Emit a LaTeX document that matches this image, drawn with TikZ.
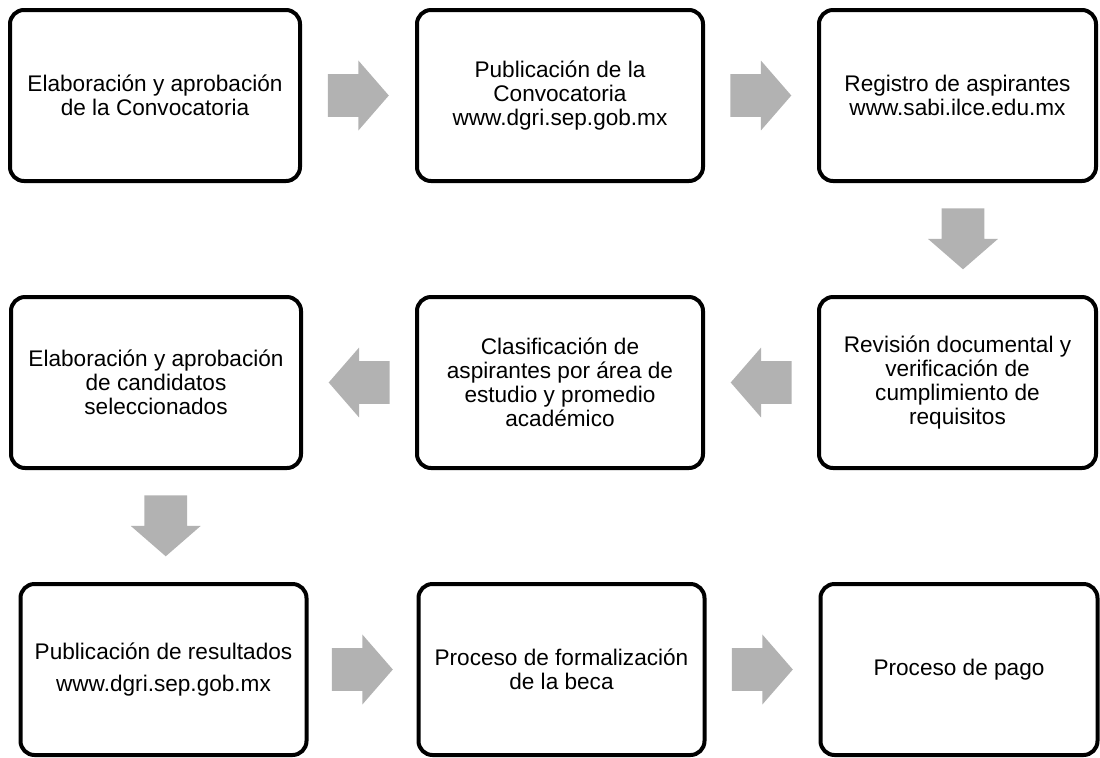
\documentclass[tikz,border=0pt]{standalone}
\usepackage{fontspec}
\setmainfont{Liberation Sans}
\usetikzlibrary{shapes.arrows, positioning, calc}
\tikzset{
  paso/.style={rectangle, draw=black, fill=white, line width=2pt, rounded corners=7pt,
               minimum width=145pt, minimum height=85.5pt, align=center,
               font=\fontsize{11.3}{12}\selectfont, inner sep=2pt},
  flecha/.style={single arrow, fill=black!30, draw=none, inner xsep=0pt, inner ysep=10.5pt,
                 minimum height=30.5pt, single arrow head extend=6.75pt,
                 single arrow tip angle=98, rotate=#1, xshift=-4.75pt},
  flecha/.default=0,
}

\begin{document}
\begin{tikzpicture}[node distance=56pt and 56pt]
  \useasboundingbox (0,0) rectangle (550pt,-378.5pt);

  % Nodes
  \node[paso] (conv) at (77.5pt,-47.75pt) {Elaboración y aprobación\\de la Convocatoria};
  \node[paso, minimum width=143pt, right=56.5pt of conv] (publ) {Publicación de la\\Convocatoria\\www.dgri.sep.gob.mx};
  \node[paso, minimum width=138.5pt, right=of publ] (regi) {Registro de aspirantes\\www.sabi.ilce.edu.mx};
  \node[paso, minimum width=138.5pt, below=of regi] (revi) {Revisión documental y\\verificación de\\cumplimiento de\\requisitos};
  \node[paso, minimum width=143pt, left=of revi] (clas) {Clasificación de\\aspirantes por área de\\estudio y promedio\\académico};
  \node[paso, left=of clas] (cand) {Elaboración y aprobación\\de candidatos\\seleccionados};
  \node[paso, minimum width=143pt, below=of cand, xshift=3.75pt] (resu) {Publicación de resultados\\[4pt]www.dgri.sep.gob.mx};
  \node[paso, minimum width=143pt, right=54pt of resu] (form) {Proceso de formalización\\de la beca};
  \node[paso, minimum width=138.5pt, right=of form] (pago) {Proceso de pago};

  % Arrows between the steps
  \node[flecha] (f1) at ($(conv.east)!0.5!(publ.west)$) {};
  \node[flecha] (f2) at ($(publ.east)!0.5!(regi.west)$) {};
  \node[flecha=270] (f3) at ($(regi.south)!0.5!(revi.north)+(2.75pt,0)$) {};
  \node[flecha=180] (f4) at ($(revi.west)!0.5!(clas.east)$) {};
  \node[flecha=180] (f5) at ($(clas.west)!0.5!(cand.east)$) {};
  \node[flecha=270] (f6) at ($(cand.south)!0.5!(resu.north)+(3pt,0)$) {};
  \node[flecha] (f7) at ($(resu.east)!0.5!(form.west)$) {};
  \node[flecha] (f8) at ($(form.east)!0.5!(pago.west)$) {};

\end{tikzpicture}
\end{document}
